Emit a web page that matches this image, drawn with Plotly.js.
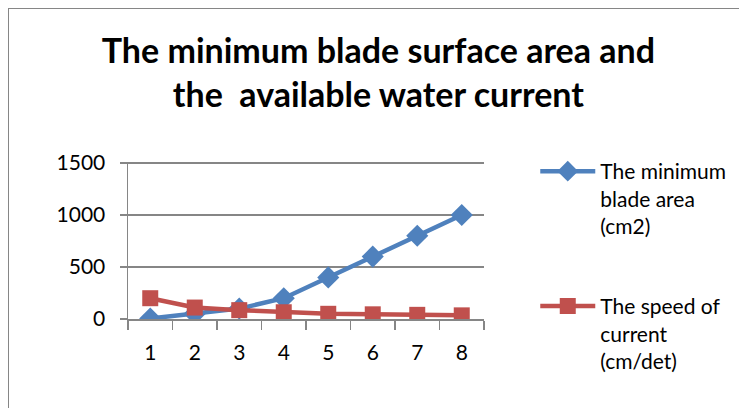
<!DOCTYPE html>
<html><head><meta charset="utf-8">
<script src="https://cdn.plot.ly/plotly-3.0.1.min.js"></script>
<style>
html,body{margin:0;padding:0;background:#fff;overflow:hidden;}
#wrap{position:relative;width:739px;height:408px;}
#chart{width:739px;height:408px;}
#frame{position:absolute;left:8px;top:8px;width:900px;height:600px;border-left:1.5px solid #868686;border-top:1.5px solid #868686;pointer-events:none;}
</style>
</head><body><div id="wrap"><div id="chart"></div><div id="frame"></div></div>
<script>
const categories = ['1','2','3','4','5','6','7','8'];
const bladeArea = [5, 50, 100, 200, 400, 600, 800, 1000];
const currentSpeed = [200, 110, 85, 65, 50, 45, 40, 35];
const seriesNames = ['The minimum<br>blade area<br>(cm2)', 'The speed of<br>current<br>(cm/det)'];
const yTicks = [0, 500, 1000, 1500];

const FONT = 'Lato, "Open Sans", sans-serif';
const traces = [
  {x: categories, y: bladeArea, name: seriesNames[0], type: 'scatter', mode: 'lines+markers',
   line: {color: '#4F81BD', width: 4.5}, marker: {symbol: 'diamond', size: 17, color: '#4F81BD'}, legendgroup: 'a'},
  {x: categories, y: currentSpeed, name: seriesNames[1], type: 'scatter', mode: 'lines+markers',
   line: {color: '#C0504D', width: 4.5}, marker: {symbol: 'square', size: 16, color: '#C0504D'}, legendgroup: 'b'}
];
const layout = {
  width: 739, height: 408,
  margin: {l: 128, r: 255, t: 162, b: 89, autoexpand: false},
  paper_bgcolor: '#fff', plot_bgcolor: '#fff',
  font: {family: FONT, size: 21, color: '#000'},
  title: {text: '<b>The minimum blade surface area and<br>the\u00A0 available water current</b>',
          font: {family: FONT, size: 34, color: '#000'}, xref: 'container', x: 0.512, xanchor: 'center',
          yref: 'container', y: 0.846, yanchor: 'middle', automargin: false},
  xaxis: {type: 'category', range: [-0.5, 7.5], showgrid: false, showline: true, linecolor: '#868686', linewidth: 1.5,
          ticks: 'outside', tickson: 'boundaries', ticklen: 9, tickcolor: '#868686', tickwidth: 1.5,
          ticklabelstandoff: 14, automargin: false,
          tickfont: {family: FONT, size: 21}, zeroline: false, fixedrange: true},
  yaxis: {range: [0, 1510], tickvals: yTicks, ticktext: yTicks.map(String), showgrid: true, gridcolor: '#868686', gridwidth: 1.5,
          showline: true, linecolor: '#868686', linewidth: 1.5, ticks: 'outside', ticklen: 7, tickcolor: '#868686', tickwidth: 1.5,
          ticklabelstandoff: 10, automargin: false,
          tickfont: {family: FONT, size: 21}, zeroline: false, fixedrange: true},
  legend: {x: 1.144, xanchor: 'left', y: 1.07, yanchor: 'top', font: {family: FONT, size: 21}, valign: 'top',
           traceorder: 'grouped', tracegroupgap: 50, itemwidth: 55, bgcolor: 'rgba(0,0,0,0)', maxheight: 400},
  showlegend: true
};
Plotly.newPlot('chart', traces, layout, {displayModeBar: false, staticPlot: true});
</script></body></html>
